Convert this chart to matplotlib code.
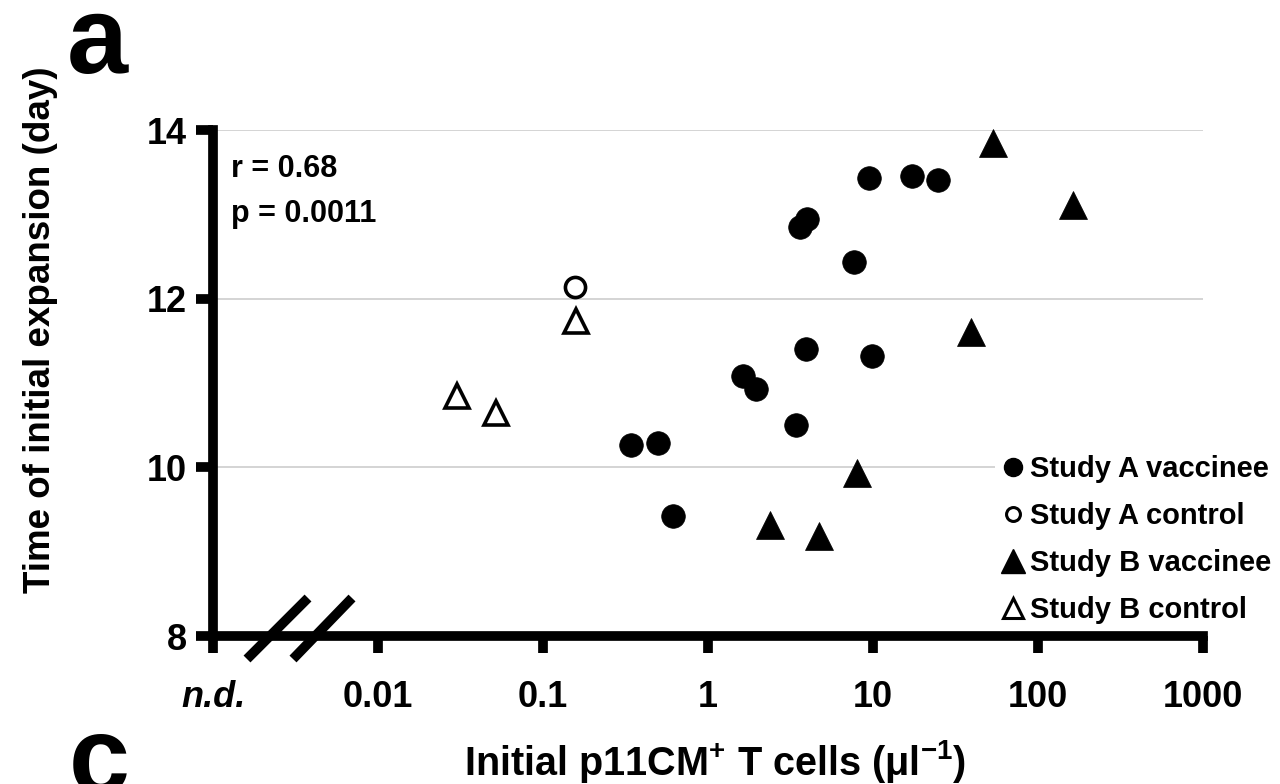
import matplotlib
matplotlib.use("Agg")
import matplotlib.pyplot as plt
from matplotlib.lines import Line2D

# ---------------- data ----------------
a_vacc_x = [0.34, 0.50, 0.61, 9.5, 17.2, 24.8, 3.6, 4.0, 7.7, 3.9, 9.9, 1.63, 1.95, 3.4]
a_vacc_y = [10.27, 10.29, 9.42, 13.43, 13.46, 13.41, 12.85, 12.94, 12.43, 11.40, 11.32, 11.08, 10.93, 10.50]
a_ctrl_x = [0.156]
a_ctrl_y = [12.14]
b_vacc_x = [53.0, 163.0, 39.0, 8.0, 4.7, 2.38]
b_vacc_y = [13.84, 13.11, 11.60, 9.93, 9.19, 9.32]
b_ctrl_x = [0.158, 0.030, 0.052]
b_ctrl_y = [11.73, 10.84, 10.65]

x_ticks = [1e-3, 1e-2, 1e-1, 1, 10, 100, 1000]
x_ticklabels = ["n.d.", "0.01", "0.1", "1", "10", "100", "1000"]
y_ticks = [8, 10, 12, 14]
legend_labels = ["Study A vaccinee", "Study A control", "Study B vaccinee", "Study B control"]

# ---------------- style ----------------
FONT = "Liberation Sans"
plt.rcParams["font.family"] = [FONT, "DejaVu Sans"]
plt.rcParams["font.weight"] = "bold"
plt.rcParams["mathtext.fontset"] = "custom"
plt.rcParams["mathtext.rm"] = "Liberation Sans:bold"
plt.rcParams["mathtext.bf"] = "Liberation Sans:bold"
plt.rcParams["mathtext.it"] = "Liberation Sans:bold:italic"
plt.rcParams["mathtext.default"] = "rm"

W, H = 1280, 784
fig = plt.figure(figsize=(W / 100, H / 100), dpi=100)
fig.patch.set_facecolor("white")

x0, x1, ytop, ybot = 213, 1203, 130, 636
ax = fig.add_axes([x0 / W, 1 - ybot / H, (x1 - x0) / W, (ybot - ytop) / H])

ax.set_xscale("log")
ax.set_xlim(1e-3, 1e3)
ax.set_ylim(8, 14)

ax.plot(a_vacc_x, a_vacc_y, linestyle="none", marker="o", ms=17, mfc="black", mec="black", mew=0.5, clip_on=False, zorder=3)
ax.plot(a_ctrl_x, a_ctrl_y, linestyle="none", marker="o", ms=14.5, mfc="white", mec="black", mew=2.6, clip_on=False, zorder=3)
ax.plot(b_vacc_x, b_vacc_y, linestyle="none", marker="^", ms=19.5, mfc="black", mec="black", mew=0.5, clip_on=False, zorder=3)
ax.plot(b_ctrl_x, b_ctrl_y, linestyle="none", marker="^", ms=17, mfc="white", mec="black", mew=2.6, clip_on=False, zorder=3)

for s in ["top", "right"]:
    ax.spines[s].set_visible(False)
for s in ["left", "bottom"]:
    ax.spines[s].set_linewidth(7)
    ax.spines[s].set_capstyle("projecting")

ax.set_xticks(x_ticks)
ax.set_xticklabels(x_ticklabels)
ax.xaxis.set_minor_locator(matplotlib.ticker.NullLocator())
ax.set_yticks(y_ticks)
ax.tick_params(axis="both", direction="out", length=12, width=7, color="black", labelsize=26)
ax.tick_params(axis="x", pad=20)
ax.tick_params(axis="y", pad=7)
for lab in ax.get_xticklabels():
    lab.set_fontweight("bold")
ax.get_xticklabels()[0].set_fontstyle("italic")
for lab in ax.get_yticklabels():
    lab.set_fontweight("bold")

ax.grid(axis="y", color="#d4d4d4", lw=1.4)
ax.grid(axis="x", visible=False)
ax.set_axisbelow(True)

# axis break marks
for (xa, ya, xb, yb) in [(247, 659, 308, 598), (293, 659, 352, 598)]:
    fig.add_artist(Line2D([xa / W, xb / W], [1 - ya / H, 1 - yb / H], transform=fig.transFigure,
                          color="black", lw=7, solid_capstyle="butt"))

# stats text
fig.text(231 / W, 1 - 177 / H, "r = 0.68", fontsize=22, fontweight="bold", ha="left", va="baseline")
fig.text(231 / W, 1 - 222 / H, "p = 0.0011", fontsize=22, fontweight="bold", ha="left", va="baseline")

# axis labels
fig.text(715 / W, 1 - 775 / H, r"Initial p11CM$^{\mathbf{+}}$ T cells (μl$^{\mathbf{-1}}$)", fontsize=28.5,
         fontweight="bold", ha="center", va="baseline")
fig.text(41 / W, 1 - 330 / H, "Time of initial expansion (day)", fontsize=26.5, fontweight="bold",
         rotation=90, ha="center", va="center")

# panel letters
fig.text(67 / W, 1 - 73 / H, "a", fontsize=79, fontweight="bold", ha="left", va="baseline")
fig.text(69 / W, 1 - 793 / H, "c", fontsize=79, fontweight="bold", ha="left", va="baseline")

# legend
handles = [
    Line2D([], [], linestyle="none", marker="o", ms=13, mfc="black", mec="black"),
    Line2D([], [], linestyle="none", marker="o", ms=10, mfc="white", mec="black", mew=2.2),
    Line2D([], [], linestyle="none", marker="^", ms=17, mfc="black", mec="black"),
    Line2D([], [], linestyle="none", marker="^", ms=14.5, mfc="white", mec="black", mew=2.2),
]
leg = fig.legend(handles, legend_labels, loc="upper left", bbox_to_anchor=(995 / W, 1 - 449 / H),
                 bbox_transform=fig.transFigure, frameon=True, facecolor="white", edgecolor="none",
                 framealpha=1, fancybox=False, handlelength=0.8, handletextpad=0.2,
                 labelspacing=0.65, borderpad=0.2, borderaxespad=0,
                 prop={"family": FONT, "weight": "bold", "size": 21})

fig.savefig("out.png", dpi=100, facecolor="white")
